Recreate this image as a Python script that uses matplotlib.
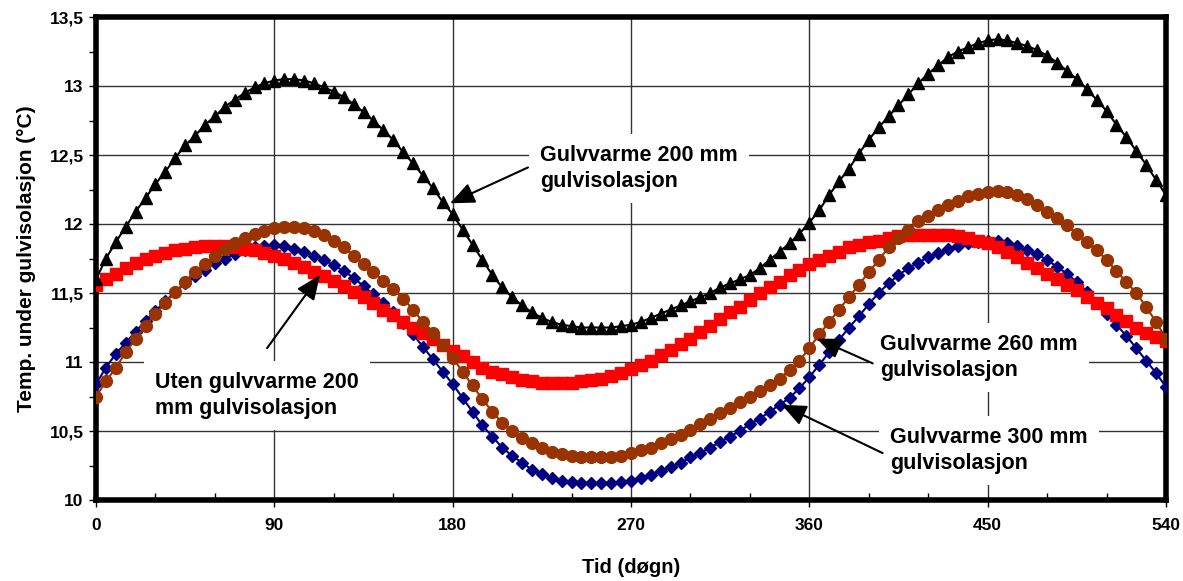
import numpy as np
import matplotlib
matplotlib.use("Agg")
import matplotlib.pyplot as plt
from matplotlib.ticker import MultipleLocator, FuncFormatter

# days, one point every 5 days
days = list(range(0, 545, 5))

# Gulvvarme 200 mm gulvisolasjon (black triangles)
t_200_heat = [
    11.60, 11.75, 11.87, 11.98, 12.09, 12.19, 12.29, 12.38, 12.48, 12.57,
    12.64, 12.72, 12.78, 12.85, 12.90, 12.95, 12.99, 13.02, 13.04, 13.05,
    13.05, 13.04, 13.02, 12.99, 12.96, 12.92, 12.87, 12.81, 12.75, 12.68,
    12.61, 12.52, 12.44, 12.35, 12.26, 12.16, 12.07, 11.96, 11.85, 11.74,
    11.63, 11.54, 11.47, 11.41, 11.36, 11.32, 11.29, 11.27, 11.26, 11.25,
    11.25, 11.25, 11.25, 11.26, 11.27, 11.29, 11.32, 11.35, 11.38, 11.41,
    11.44, 11.47, 11.50, 11.54, 11.57, 11.60, 11.63, 11.68, 11.74, 11.80,
    11.86, 11.93, 12.01, 12.10, 12.21, 12.31, 12.40, 12.51, 12.61, 12.70,
    12.78, 12.86, 12.94, 13.02, 13.09, 13.15, 13.21, 13.25, 13.28, 13.31,
    13.33, 13.34, 13.33, 13.31, 13.29, 13.26, 13.22, 13.17, 13.11, 13.05,
    12.98, 12.90, 12.82, 12.72, 12.63, 12.53, 12.43, 12.32, 12.21,
]

# Uten gulvvarme 200 mm gulvisolasjon (red squares)
t_200_noheat = [
    11.56, 11.60, 11.64, 11.68, 11.72, 11.75, 11.77, 11.79, 11.81, 11.82,
    11.83, 11.84, 11.84, 11.84, 11.83, 11.82, 11.81, 11.79, 11.77, 11.75,
    11.72, 11.69, 11.65, 11.62, 11.59, 11.55, 11.51, 11.47, 11.43, 11.38,
    11.34, 11.29, 11.25, 11.21, 11.17, 11.12, 11.08, 11.04, 11.00, 10.96,
    10.93, 10.91, 10.89, 10.87, 10.86, 10.85, 10.85, 10.85, 10.85, 10.86,
    10.87, 10.88, 10.90, 10.92, 10.95, 10.98, 11.01, 11.05, 11.09, 11.13,
    11.17, 11.22, 11.26, 11.31, 11.36, 11.40, 11.45, 11.50, 11.54, 11.58,
    11.63, 11.67, 11.71, 11.74, 11.77, 11.80, 11.83, 11.85, 11.87, 11.88,
    11.90, 11.91, 11.92, 11.92, 11.92, 11.92, 11.92, 11.91, 11.90, 11.88,
    11.86, 11.83, 11.80, 11.76, 11.72, 11.68, 11.64, 11.60, 11.56, 11.52,
    11.47, 11.43, 11.39, 11.34, 11.30, 11.25, 11.21, 11.18, 11.15,
]

# Gulvvarme 260 mm gulvisolasjon (brown circles)
t_260_heat = [
    10.75, 10.86, 10.96, 11.07, 11.17, 11.26, 11.35, 11.43, 11.51, 11.58,
    11.65, 11.71, 11.77, 11.82, 11.86, 11.90, 11.93, 11.95, 11.97, 11.98,
    11.98, 11.97, 11.95, 11.92, 11.88, 11.83, 11.77, 11.71, 11.65, 11.59,
    11.53, 11.46, 11.38, 11.29, 11.21, 11.12, 11.03, 10.93, 10.83, 10.73,
    10.64, 10.56, 10.50, 10.45, 10.41, 10.38, 10.35, 10.33, 10.32, 10.31,
    10.31, 10.31, 10.31, 10.32, 10.34, 10.36, 10.38, 10.41, 10.44, 10.47,
    10.51, 10.55, 10.59, 10.63, 10.67, 10.71, 10.75, 10.79, 10.83, 10.88,
    10.94, 11.01, 11.10, 11.20, 11.29, 11.38, 11.47, 11.56, 11.65, 11.74,
    11.83, 11.90, 11.96, 12.02, 12.06, 12.10, 12.14, 12.17, 12.20, 12.22,
    12.23, 12.24, 12.23, 12.21, 12.18, 12.14, 12.09, 12.04, 11.99, 11.93,
    11.87, 11.81, 11.74, 11.66, 11.58, 11.50, 11.40, 11.29, 11.17,
]

# Gulvvarme 300 mm gulvisolasjon (navy diamonds)
t_300_heat = [
    10.84, 10.96, 11.06, 11.14, 11.22, 11.30, 11.37, 11.44, 11.51, 11.57,
    11.62, 11.67, 11.72, 11.75, 11.78, 11.81, 11.83, 11.84, 11.85, 11.84,
    11.82, 11.80, 11.77, 11.74, 11.70, 11.66, 11.61, 11.55, 11.49, 11.43,
    11.36, 11.28, 11.20, 11.11, 11.02, 10.93, 10.84, 10.74, 10.64, 10.54,
    10.46, 10.38, 10.32, 10.27, 10.22, 10.19, 10.16, 10.14, 10.13, 10.12,
    10.12, 10.12, 10.12, 10.13, 10.14, 10.16, 10.18, 10.21, 10.24, 10.27,
    10.31, 10.34, 10.38, 10.42, 10.46, 10.50, 10.55, 10.59, 10.64, 10.69,
    10.74, 10.81, 10.89, 10.98, 11.07, 11.16, 11.25, 11.33, 11.42, 11.50,
    11.57, 11.63, 11.68, 11.72, 11.76, 11.79, 11.82, 11.84, 11.86, 11.87,
    11.88, 11.88, 11.86, 11.84, 11.81, 11.78, 11.74, 11.69, 11.64, 11.58,
    11.51, 11.43, 11.35, 11.27, 11.19, 11.10, 11.01, 10.92, 10.82,
]

plt.rcParams['font.family'] = ['Liberation Sans', 'DejaVu Sans']
plt.rcParams['font.weight'] = 'bold'

fig = plt.figure(figsize=(11.83, 5.81), dpi=100)
ax = fig.add_axes([0.0812, 0.1394, 0.9044, 0.8313])

# bottom to top: navy, red, brown, black
ax.plot(days, t_300_heat, color='#000080', lw=1.5, marker='D', ms=6,
        mfc='#000080', mec='#000080', zorder=3)
ax.plot(days, t_200_noheat, color='#FF0000', lw=1.5, marker='s', ms=8.5,
        mfc='#FF0000', mec='#FF0000', zorder=4)
ax.plot(days, t_260_heat, color='#993300', lw=1.5, marker='o', ms=8.5,
        mfc='#993300', mec='#993300', zorder=5)
ax.plot(days, t_200_heat, color='black', lw=1.5, marker='^', ms=8.5,
        mfc='black', mec='black', zorder=6)

ax.set_xlim(0, 540)
ax.set_ylim(10, 13.5)
ax.xaxis.set_major_locator(MultipleLocator(90))
ax.xaxis.set_minor_locator(MultipleLocator(30))
ax.yaxis.set_major_locator(MultipleLocator(0.5))
ax.yaxis.set_minor_locator(MultipleLocator(0.25))
ax.yaxis.set_major_formatter(FuncFormatter(lambda v, p: f"{v:g}".replace('.', ',')))

ax.grid(True, which='major', color='#333333', lw=1.0, zorder=1)
ax.set_axisbelow(True)
for s in ax.spines.values():
    s.set_linewidth(4)
    s.set_color('black')

ax.tick_params(axis='both', which='major', labelsize=12.5, length=5, width=1, direction='out')
ax.tick_params(axis='y', which='major', pad=4)
ax.tick_params(axis='x', which='major', pad=8)
ax.tick_params(axis='x', which='minor', length=5, width=1, direction='in')
ax.tick_params(axis='y', which='minor', length=5, width=1, direction='out')
for lab in ax.get_xticklabels() + ax.get_yticklabels():
    lab.set_fontweight('bold')

ax.set_xlabel('Tid (døgn)', fontsize=14.5, fontweight='bold', labelpad=18)
ax.set_ylabel('Temp. under gulvisolasjon (°C)', fontsize=15, fontweight='bold', labelpad=10)

box = dict(facecolor='white', edgecolor='none', pad=8)
txt_kw = dict(fontsize=15.5, fontweight='bold', va='center', ha='left',
              linespacing=1.3, bbox=box, zorder=7)
arrow_kw = dict(arrowstyle='-|>,head_length=0.75,head_width=0.32',
                color='black', lw=1.5, mutation_scale=20, shrinkA=0, shrinkB=0)

ax.text(224, 12.40, 'Gulvvarme 200 mm\ngulvisolasjon', **txt_kw)
ax.annotate('', xy=(178.6, 12.15), xytext=(218, 12.41), arrowprops=arrow_kw, zorder=8)

ax.text(29.8, 10.76, 'Uten gulvvarme 200\nmm gulvisolasjon', **txt_kw)
ax.annotate('', xy=(113, 11.63), xytext=(86.3, 11.10), arrowprops=arrow_kw, zorder=8)

ax.text(395.6, 11.03, 'Gulvvarme 260 mm\ngulvisolasjon', **txt_kw)
ax.annotate('', xy=(363.8, 11.17), xytext=(392, 10.99), arrowprops=arrow_kw, zorder=8)

ax.text(400.6, 10.36, 'Gulvvarme 300 mm\ngulvisolasjon', **txt_kw)
ax.annotate('', xy=(346, 10.69), xytext=(397, 10.34), arrowprops=arrow_kw, zorder=8)

fig.savefig('out.png', dpi=100)
